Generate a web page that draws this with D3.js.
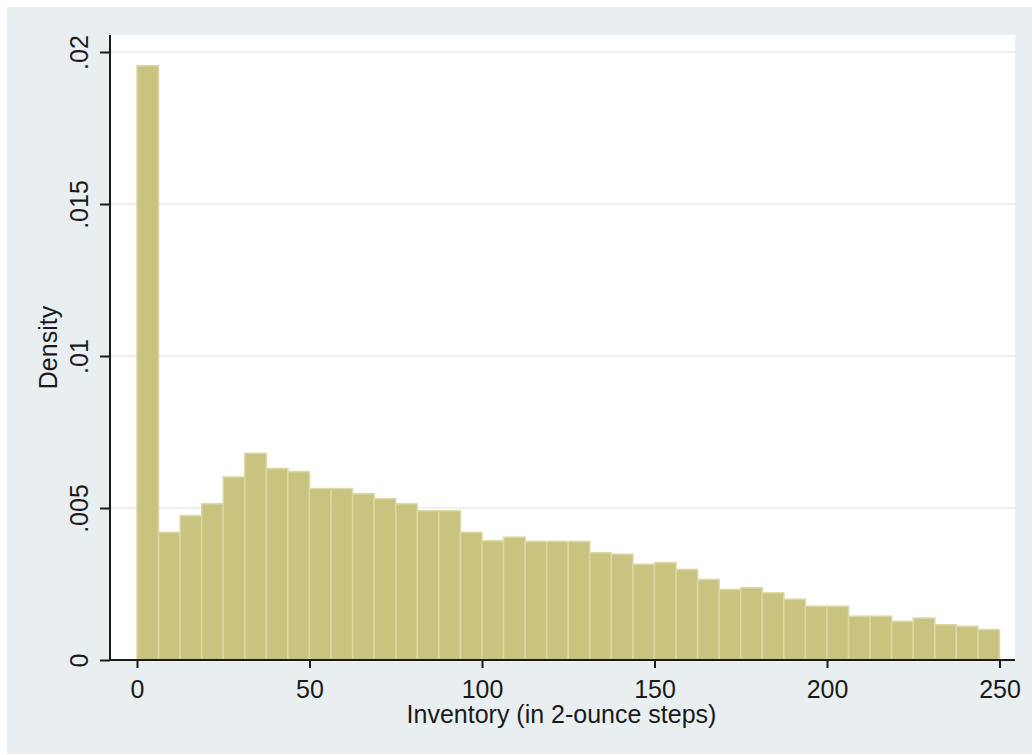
<!DOCTYPE html>
<html>
<head>
<meta charset="utf-8">
<script src="https://cdn.jsdelivr.net/npm/d3@7"></script>
<style>
	body { margin: 0; background: #ffffff; }
	text { font-family: "Liberation Sans", Arial, sans-serif; fill: #1a1a1a; }
</style>
</head>
<body>
<svg id="chart" width="1032" height="755"></svg>
<script>
//Histogram data: 40 bins of width 6.25 over 0-250.
var binWidth = 6.25;
var densities = [0.01955, 0.0042, 0.00475, 0.00514, 0.00602, 0.0068, 0.0063, 0.0062, 0.00564, 0.00564,
	0.00547, 0.00531, 0.00514, 0.00491, 0.00491, 0.0042, 0.00392, 0.00404, 0.0039, 0.0039,
	0.0039, 0.00353, 0.00348, 0.00315, 0.0032, 0.00298, 0.00265, 0.00232, 0.00238, 0.00221,
	0.002, 0.00177, 0.00177, 0.00144, 0.00144, 0.00127, 0.00138, 0.00116, 0.00111, 0.001];
var xTicks = [0, 50, 100, 150, 200, 250];
var yTicks = [0, 0.005, 0.01, 0.015, 0.02];
var yTickLabels = ["0", ".005", ".01", ".015", ".02"];
var xTitle = "Inventory (in 2-ounce steps)";
var yTitle = "Density";

var svg = d3.select("#chart");

//Plot region bounds.
var plotLeft = 110, plotRight = 1015, plotTop = 35, plotBottom = 660;

var x = d3.scaleLinear().domain([0, 250]).range([137, 999.5]);
var y = d3.scaleLinear().domain([0, 0.02]).range([plotBottom, 52]);

//Graph region background and white plot region.
svg.append("rect")
	.attr("x", 7).attr("y", 7)
	.attr("width", 1025).attr("height", 747)
	.attr("fill", "#e9eff1");

svg.append("rect")
	.attr("x", plotLeft).attr("y", plotTop)
	.attr("width", plotRight - plotLeft).attr("height", plotBottom - plotTop)
	.attr("fill", "#ffffff");

//Grid lines.
svg.append("g")
	.selectAll("line")
	.data(yTicks.slice(1))
	.enter()
	.append("line")
	.attr("x1", plotLeft).attr("x2", plotRight)
	.attr("y1", function(d){ return y(d); })
	.attr("y2", function(d){ return y(d); })
	.attr("stroke", "#eaf1f2")
	.attr("stroke-width", 2);

//Bars.
var bins = densities.map(function(d, i){
	return {x0: i * binWidth, x1: (i + 1) * binWidth, v: d};
});

svg.append("g")
	.selectAll("rect")
	.data(bins)
	.enter()
	.append("rect")
	.attr("x", function(d){ return x(d.x0); })
	.attr("width", function(d){ return x(d.x1) - x(d.x0); })
	.attr("y", function(d){ return y(d.v); })
	.attr("height", function(d){ return y(0) - y(d.v); })
	.attr("fill", "#c9c380")
	.attr("stroke", "#dcd7a4")
	.attr("stroke-width", 1.5);

//X axis.
var xAxis = svg.append("g")
	.attr("transform", "translate(0," + plotBottom + ")")
	.call(d3.axisBottom(x)
		.tickValues(xTicks)
		.tickFormat(d3.format("d"))
		.tickSize(8)
		.tickSizeOuter(0)
		.tickPadding(12));

xAxis.select(".domain").remove();
xAxis.selectAll("line").attr("stroke", "#1a1a1a").attr("stroke-width", 2);
xAxis.selectAll("text")
	.attr("font-size", 25)
	.attr("font-family", "Liberation Sans, Arial, sans-serif")
	.attr("fill", "#1a1a1a");

//Y axis.
var yAxis = svg.append("g")
	.attr("transform", "translate(" + plotLeft + ",0)")
	.call(d3.axisLeft(y)
		.tickValues(yTicks)
		.tickFormat(function(d, i){ return yTickLabels[i]; })
		.tickSize(10)
		.tickSizeOuter(0));

yAxis.select(".domain").remove();
yAxis.selectAll("line").attr("stroke", "#1a1a1a").attr("stroke-width", 2);
yAxis.selectAll("text")
	.attr("x", null)
	.attr("dy", null)
	.attr("text-anchor", "middle")
	.attr("transform", "translate(-22,0) rotate(-90)")
	.attr("font-size", 25)
	.attr("font-family", "Liberation Sans, Arial, sans-serif")
	.attr("fill", "#1a1a1a");

//Axis lines.
svg.append("line")
	.attr("x1", plotLeft).attr("x2", plotLeft)
	.attr("y1", plotTop).attr("y2", plotBottom + 1)
	.attr("stroke", "#1a1a1a").attr("stroke-width", 2);

svg.append("line")
	.attr("x1", plotLeft - 1).attr("x2", plotRight)
	.attr("y1", plotBottom).attr("y2", plotBottom)
	.attr("stroke", "#1a1a1a").attr("stroke-width", 2);

//Axis titles.
svg.append("text")
	.attr("x", 561.5).attr("y", 723)
	.attr("text-anchor", "middle")
	.attr("font-size", 25)
	.text(xTitle);

svg.append("text")
	.attr("transform", "translate(57," + ((plotTop + plotBottom) / 2) + ") rotate(-90)")
	.attr("text-anchor", "middle")
	.attr("font-size", 25)
	.text(yTitle);
</script>
</body>
</html>
